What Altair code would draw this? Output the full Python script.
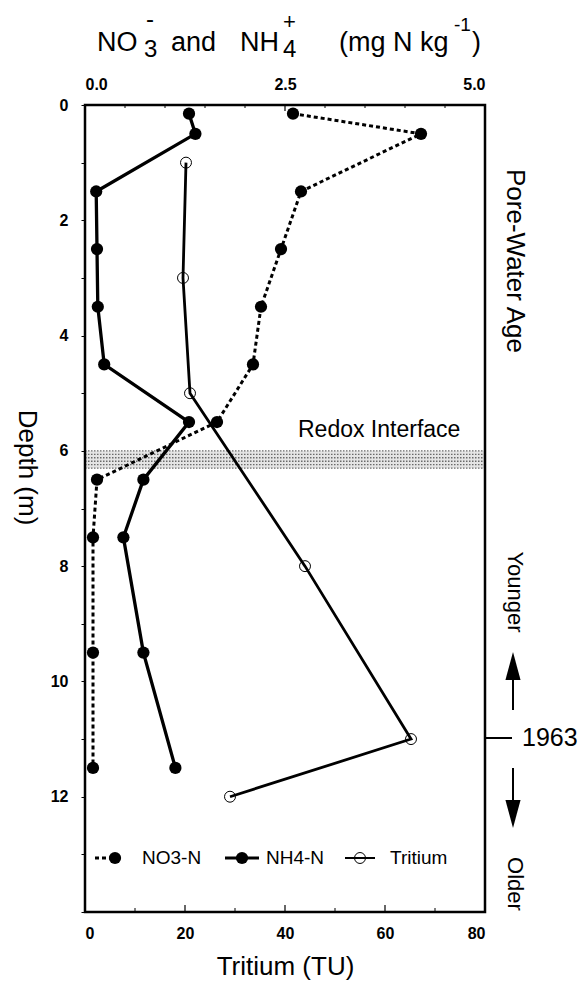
import altair as alt
import pandas as pd

# ---------------- data ----------------
depth_n = [0.15, 0.5, 1.5, 2.5, 3.5, 4.5, 5.5, 6.5, 7.5, 9.5, 11.5]
no3_n = [2.6, 4.2, 2.7, 2.45, 2.2, 2.1, 1.65, 0.15, 0.1, 0.1, 0.1]
nh4_n = [1.3, 1.38, 0.14, 0.15, 0.16, 0.24, 1.3, 0.73, 0.48, 0.73, 1.13]
depth_t = [1, 3, 5, 8, 11, 12]
tritium_tu = [20.2, 19.6, 21.0, 44.0, 65.2, 29.0]
redox_depths = [6.0, 6.3]
depth_ticks = list(range(0, 15))
tritium_labels = [0, 20, 40, 60, 80]
tritium_major = [20, 40, 60]
tritium_minor = [10, 30, 50, 70]
conc_labels = [0.0, 2.5, 5.0]
conc_major = [2.5]
conc_minor = [0.5, 1.0, 1.5, 2.0, 3.0, 3.5, 4.0, 4.5]

W, H = 400, 807
FONT = "Liberation Sans"

df_n = pd.DataFrame({"depth": depth_n, "NO3": no3_n, "NH4": nh4_n})
df_t = pd.DataFrame({"depth": depth_t, "TU": tritium_tu})
df_band = pd.DataFrame({"top": [redox_depths[0]], "bottom": [redox_depths[1]]})
# rows of the dotted texture inside the redox band (decoration only)
n_rows = 6
band_rows = pd.DataFrame({
    "d": [redox_depths[0] + i * (redox_depths[1] - redox_depths[0]) / (n_rows - 1)
          for i in range(n_rows)]
})
one = pd.DataFrame({"k": [0]})

# ---------------- scales / axes ----------------
y_scale = alt.Scale(domain=[0, 14], reverse=True, nice=False, zero=False)
y_axis = alt.Axis(
    orient="left", title="Depth (m)", values=depth_ticks,
    labelExpr="datum.value % 2 == 0 && datum.value < 14 ? datum.label : ''",
    domain=False, grid=False, ticks=True, tickSize=4, tickColor="black", tickWidth=1,
    labelPadding=13, labelFontSize=16, labelFontWeight="bold", labelColor="black",
    titleAngle=90, titleX=-59, titleY=362, titleAlign="center", titleBaseline="middle",
    titleFontSize=26, titleFontWeight="normal", titleColor="black",
)


def Y(field):
    return alt.Y(f"{field}:Q", scale=y_scale, axis=y_axis)


t_scale = alt.Scale(domain=[0, 80], nice=False, zero=False)
t_axis = alt.Axis(
    orient="bottom", title="Tritium (TU)", values=tritium_labels, format="d",
    ticks=False, domain=False, grid=False, labelPadding=13, labelFontSize=16,
    labelFontWeight="bold", labelColor="black", titleFontSize=26,
    titleFontWeight="normal", titleColor="black", titlePadding=12,
)


def XT(field):
    return alt.X(f"{field}:Q", scale=t_scale, axis=t_axis)


c_scale = alt.Scale(domain=[0, 5], nice=False, zero=False)
c_axis = alt.Axis(
    orient="top", title="", values=conc_labels, format=".1f",
    ticks=False, domain=False, grid=False, labelPadding=13, labelFontSize=16,
    labelFontWeight="bold", labelColor="black",
)


def XC(field):
    return alt.X(f"{field}:Q", scale=c_scale, axis=c_axis)


# ---------------- redox band ----------------
band = alt.Chart(df_band).mark_rect(color="#e4e4e4").encode(
    y=Y("top"), y2=alt.Y2("bottom:Q"), x=alt.value(0), x2=alt.value(W)
)
band_tex = alt.Chart(band_rows).mark_rule(
    color="#6a6a6a", strokeWidth=1.3, strokeDash=[1.5, 1.5]
).encode(y=Y("d"), x=alt.value(0), x2=alt.value(W))

# ---------------- tritium group ----------------
trit_line = alt.Chart(df_t).mark_line(color="black", strokeWidth=2.8).encode(
    x=XT("TU"), y=Y("depth"), order=alt.Order("depth:Q")
)
trit_pts = alt.Chart(df_t).mark_point(
    shape="circle", size=120, filled=False, color="black", strokeWidth=1, opacity=1
).encode(x=XT("TU"), y=Y("depth"))
t_maj = alt.Chart(pd.DataFrame({"v": tritium_major})).mark_rule(
    color="black", strokeWidth=1.2
).encode(x=XT("v"), y=alt.value(H), y2=alt.value(H - 7))
t_min = alt.Chart(pd.DataFrame({"v": tritium_minor})).mark_rule(
    color="black", strokeWidth=1
).encode(x=XT("v"), y=alt.value(H), y2=alt.value(H - 4))
trit_group = alt.layer(t_maj, t_min, trit_line, trit_pts)

# ---------------- concentration group ----------------
no3_line = alt.Chart(df_n).mark_line(
    color="black", strokeWidth=3, strokeDash=[4, 3]
).encode(x=XC("NO3"), y=Y("depth"), order=alt.Order("depth:Q"))
no3_pts = alt.Chart(df_n).mark_circle(size=150, color="black", opacity=1).encode(
    x=XC("NO3"), y=Y("depth")
)
nh4_line = alt.Chart(df_n).mark_line(color="black", strokeWidth=3.3).encode(
    x=XC("NH4"), y=Y("depth"), order=alt.Order("depth:Q")
)
nh4_pts = alt.Chart(df_n).mark_circle(size=150, color="black", opacity=1).encode(
    x=XC("NH4"), y=Y("depth")
)
c_maj = alt.Chart(pd.DataFrame({"v": conc_major})).mark_rule(
    color="black", strokeWidth=1.2
).encode(x=XC("v"), y=alt.value(0), y2=alt.value(6))
c_min = alt.Chart(pd.DataFrame({"v": conc_minor})).mark_rule(
    color="black", strokeWidth=1
).encode(x=XC("v"), y=alt.value(0), y2=alt.value(3))
conc_group = alt.layer(c_maj, c_min, no3_line, nh4_line, no3_pts, nh4_pts)


# ---------------- annotations ----------------
def txt(s, x, y, size, angle=0, align="left", baseline="alphabetic", weight="normal"):
    kw = dict(fontSize=size, font=FONT, color="black", align=align,
              baseline=baseline, fontWeight=weight)
    if angle:
        kw["angle"] = angle
    return alt.Chart(one).mark_text(**kw).encode(
        x=alt.value(x), y=alt.value(y), text=alt.value(s)
    )


def rule(x1, y1, x2, y2, width=2, dash=None):
    kw = dict(color="black", strokeWidth=width)
    if dash:
        kw["strokeDash"] = dash
    return alt.Chart(one).mark_rule(**kw).encode(
        x=alt.value(x1), y=alt.value(y1), x2=alt.value(x2), y2=alt.value(y2)
    )


def sym(x, y, shape, size, filled=True, width=1):
    return alt.Chart(one).mark_point(
        shape=shape, size=size, filled=filled, color="black",
        strokeWidth=width, opacity=1
    ).encode(x=alt.value(x), y=alt.value(y))


UP = "M0,-1L0.54,1L-0.54,1Z"
DOWN = "M0,1L0.54,-1L-0.54,-1Z"

frame = alt.Chart(one).mark_rect(
    fill="transparent", stroke="black", strokeWidth=2.5
).encode(x=alt.value(0), x2=alt.value(W), y=alt.value(0), y2=alt.value(H))

ann = [
    # top title built from pieces (sub/superscripts)
    txt("NO", 12, -54, 27),
    txt("3", 59, -48, 24),
    txt("-", 61, -78, 24),
    txt("and", 86, -54, 27),
    txt("NH", 155, -54, 27),
    txt("4", 198, -48, 24),
    txt("+", 198, -76, 22),
    txt("(mg N kg", 254, -54, 27),
    txt("-1", 369, -74, 19),
    txt(")", 387, -54, 27),
    # redox interface label
    txt("Redox Interface", 213, 332, 23),
    # right-side pore-water age annotations
    txt("Pore-Water Age", 430, 156, 26, angle=90, align="center", baseline="middle"),
    txt("Younger", 430, 487, 22, angle=90, align="center", baseline="middle"),
    rule(428, 570, 428, 605),
    sym(428, 561, UP, 784),
    rule(400, 633, 427, 633),
    txt("1963", 437, 633, 25, baseline="middle"),
    rule(428, 663, 428, 700),
    sym(428, 709, DOWN, 784),
    txt("Older", 430, 779, 22, angle=90, align="center", baseline="middle"),
    # legend
    rule(10, 753, 25, 753, width=3, dash=[4, 3]),
    sym(30, 753, "circle", 150),
    txt("NO3-N", 57, 753, 19, baseline="middle"),
    rule(140, 753, 174, 753, width=3),
    sym(157, 753, "circle", 150),
    txt("NH4-N", 181, 753, 19, baseline="middle"),
    rule(260, 753, 290, 753, width=2),
    sym(275, 753, "circle", 120, filled=False, width=1),
    txt("Tritium", 305, 753, 19, baseline="middle"),
]

chart = (
    alt.layer(band, band_tex, trit_group, conc_group, frame, *ann)
    .resolve_scale(x="independent")
    .properties(
        width=W, height=H,
        autosize=alt.AutoSizeParams(type="none"),
        padding={"left": 85, "top": 105, "right": 97, "bottom": 76},
    )
    .configure_view(stroke="black", strokeWidth=2.5)
    .configure(font=FONT, background="white")
)

chart.save("out.html", embed_options={"renderer": "svg", "actions": False})
